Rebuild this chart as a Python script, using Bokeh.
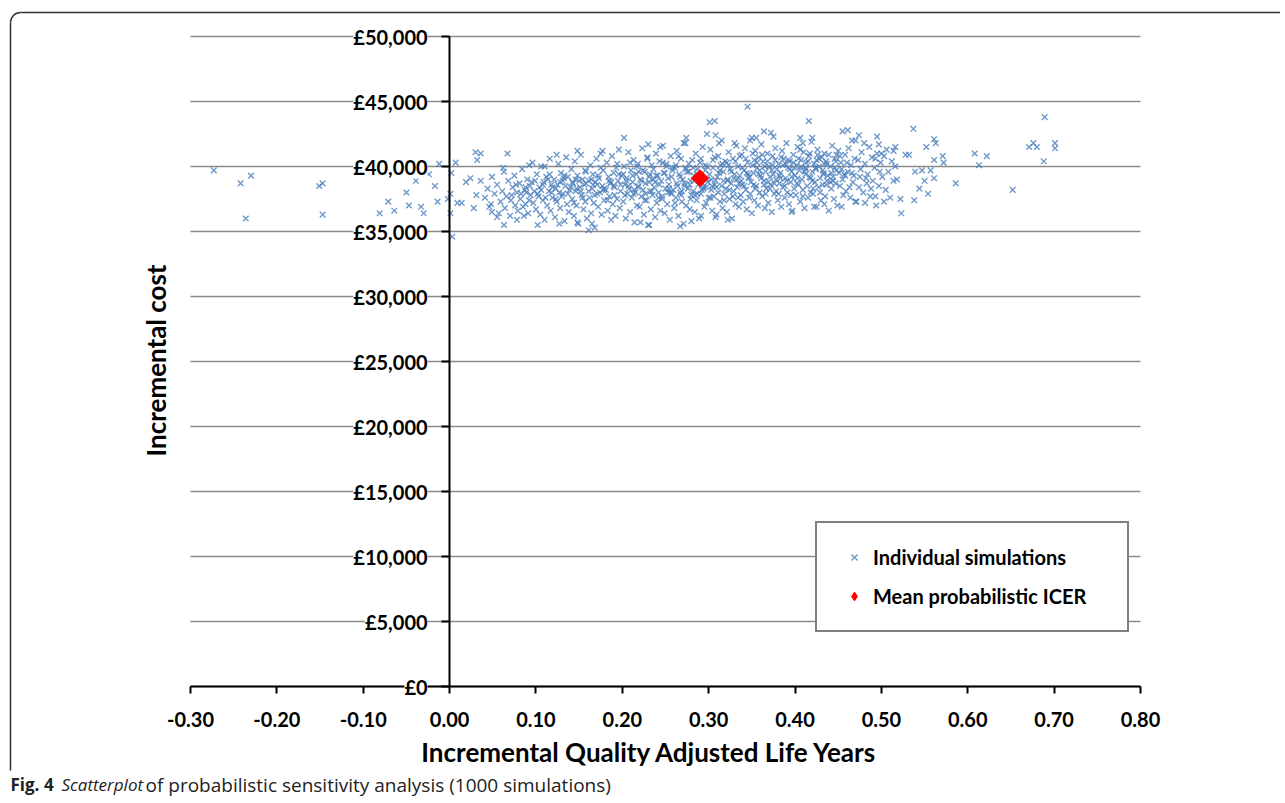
from math import pi
from bokeh.plotting import figure
from bokeh.models import (ColumnDataSource, FixedTicker, Range1d, Legend, LegendItem,
                          LabelSet, Label, NumeralTickFormatter)
from bokeh.core.properties import value
from bokeh.embed import file_html
from bokeh.resources import INLINE

# ---------------- data (QALY gain, incremental cost in £ thousands) ----------------
tail_qaly = [-0.273, -0.242, -0.230, -0.236, -0.151, -0.147, -0.147, -0.081, -0.071, -0.064,
             -0.050, -0.039, -0.047, -0.033, -0.030, -0.017, -0.014, -0.024, -0.012, -0.002,
             0.001, 0.002, 0.001, 0.003, 0.007, 0.009,
             0.030, 0.036, 0.032, 0.019, 0.024, 0.036, 0.031, 0.014, 0.028, 0.048, 0.049, 0.055]
tail_cost = [39.7, 38.7, 39.3, 36.0, 38.5, 38.7, 36.3, 36.4, 37.3, 36.6,
             38.0, 38.9, 37.0, 36.9, 36.4, 38.5, 37.3, 39.4, 40.2, 37.5,
             37.9, 39.5, 36.4, 34.6, 40.3, 37.2,
             41.1, 41.0, 40.5, 38.8, 39.1, 38.9, 37.8, 37.2, 36.8, 37.1, 36.5, 36.1]

upper_qaly = [0.345, 0.301, 0.307, 0.298, 0.308, 0.315, 0.274, 0.271, 0.202, 0.230, 0.244,
              0.350, 0.355, 0.364, 0.330, 0.067, 0.124, 0.148, 0.177, 0.062, 0.092, 0.110]
upper_cost = [44.6, 43.4, 43.5, 42.5, 42.4, 42.0, 42.2, 41.8, 42.2, 41.7, 41.5,
              42.2, 42.2, 42.7, 41.8, 41.0, 40.9, 41.2, 41.2, 39.9, 40.1, 40.0]

lower_qaly = [0.161, 0.063, 0.102, 0.127, 0.148, 0.165, 0.221, 0.231, 0.267, 0.280,
              0.291, 0.308, 0.322, 0.078, 0.086]
lower_cost = [35.1, 35.5, 35.5, 35.6, 35.7, 35.6, 35.7, 35.5, 35.4, 35.8,
              36.2, 36.1, 35.9, 35.9, 36.2]

right_qaly = [0.416, 0.537, 0.561, 0.563, 0.552, 0.571, 0.572, 0.561, 0.586, 0.608,
              0.622, 0.613, 0.652, 0.671, 0.676, 0.680, 0.689, 0.688, 0.701, 0.701,
              0.523, 0.522, 0.538, 0.554, 0.544, 0.550, 0.547, 0.539, 0.561, 0.557,
              0.503, 0.493, 0.481, 0.470, 0.454, 0.434, 0.422, 0.396, 0.455, 0.461,
              0.420, 0.406, 0.409, 0.474, 0.466, 0.495, 0.497, 0.480, 0.516, 0.514,
              0.500, 0.528, 0.532, 0.372, 0.375]
right_cost = [43.5, 42.9, 42.1, 41.8, 41.5, 40.8, 40.3, 40.5, 38.7, 41.0,
              40.8, 40.1, 38.2, 41.5, 41.8, 41.5, 43.8, 40.4, 41.8, 41.4,
              36.4, 37.5, 37.4, 37.9, 38.3, 38.9, 39.7, 39.6, 39.1, 39.7,
              37.3, 37.7, 37.2, 37.3, 36.9, 37.1, 36.9, 36.5, 42.7, 42.8,
              42.2, 42.2, 41.8, 42.4, 42.0, 42.3, 41.7, 41.8, 41.5, 41.2,
              41.0, 40.9, 40.9, 42.6, 42.3]

core_qaly = [
    0.041, 0.044, 0.046, 0.049, 0.052, 0.055, 0.057, 0.059,
    0.061, 0.063, 0.064, 0.066, 0.068, 0.070, 0.071, 0.073, 0.075, 0.076, 0.078, 0.079,
    0.081, 0.082, 0.084, 0.085, 0.087, 0.088, 0.090, 0.091, 0.093, 0.094, 0.096, 0.097, 0.099, 0.100,
    0.101, 0.102, 0.104, 0.105, 0.106, 0.108, 0.109, 0.110, 0.112, 0.113, 0.115, 0.116, 0.117, 0.118, 0.119,
    0.121, 0.122, 0.123, 0.124, 0.126, 0.127, 0.128, 0.129, 0.130, 0.131, 0.133, 0.134, 0.135, 0.136, 0.137, 0.138, 0.139,
    0.141, 0.142, 0.143, 0.144, 0.145, 0.146, 0.147, 0.148, 0.149, 0.151, 0.152, 0.153, 0.154, 0.155, 0.156, 0.157, 0.158, 0.159,
    0.161, 0.162, 0.163, 0.164, 0.165, 0.166, 0.167, 0.168, 0.169, 0.170, 0.171, 0.172, 0.173, 0.174, 0.175, 0.176, 0.177, 0.178, 0.179,
    0.181, 0.182, 0.183, 0.184, 0.185, 0.186, 0.187, 0.188, 0.189, 0.190, 0.191, 0.192, 0.193, 0.194, 0.195, 0.196, 0.197, 0.198, 0.199,
    0.201, 0.202, 0.203, 0.204, 0.205, 0.206, 0.207, 0.208, 0.209, 0.210, 0.211, 0.212, 0.213, 0.214, 0.215, 0.216, 0.217, 0.218, 0.219, 0.220,
    0.221, 0.222, 0.223, 0.224, 0.225, 0.226, 0.227, 0.228, 0.229, 0.230, 0.231, 0.232, 0.233, 0.234, 0.235, 0.236, 0.237, 0.238, 0.239, 0.240,
    0.241, 0.242, 0.243, 0.244, 0.245, 0.246, 0.247, 0.248, 0.249, 0.250, 0.251, 0.252, 0.253, 0.254, 0.255, 0.256, 0.257, 0.258, 0.259, 0.260,
    0.261, 0.262, 0.263, 0.264, 0.265, 0.266, 0.267, 0.268, 0.269, 0.270, 0.271, 0.272, 0.273, 0.274, 0.275, 0.276, 0.277, 0.278, 0.279, 0.280,
    0.281, 0.282, 0.283, 0.284, 0.285, 0.286, 0.287, 0.288, 0.289, 0.290, 0.291, 0.292, 0.293, 0.294, 0.295, 0.296, 0.297, 0.298, 0.299, 0.300,
    0.301, 0.302, 0.303, 0.304, 0.305, 0.306, 0.307, 0.308, 0.309, 0.310, 0.311, 0.312, 0.313, 0.314, 0.315, 0.316, 0.317, 0.318, 0.319, 0.320,
    0.321, 0.322, 0.323, 0.324, 0.325, 0.326, 0.327, 0.328, 0.329, 0.330, 0.331, 0.332, 0.333, 0.334, 0.335, 0.336, 0.337, 0.338, 0.339, 0.340,
    0.341, 0.342, 0.343, 0.344, 0.345, 0.346, 0.347, 0.348, 0.349, 0.350, 0.351, 0.352, 0.353, 0.354, 0.355, 0.356, 0.357, 0.358, 0.359, 0.360,
    0.361, 0.362, 0.363, 0.364, 0.365, 0.366, 0.367, 0.368, 0.369, 0.370, 0.371, 0.372, 0.373, 0.374, 0.375, 0.376, 0.377, 0.378, 0.379, 0.380,
    0.381, 0.382, 0.383, 0.384, 0.385, 0.386, 0.387, 0.388, 0.389, 0.390, 0.391, 0.392, 0.393, 0.394, 0.395, 0.396, 0.397, 0.398, 0.399, 0.400,
    0.401, 0.402, 0.403, 0.404, 0.405, 0.406, 0.407, 0.408, 0.409, 0.410, 0.411, 0.412, 0.413, 0.414, 0.415, 0.416, 0.417, 0.418, 0.419, 0.420,
    0.421, 0.422, 0.423, 0.424, 0.425, 0.426, 0.427, 0.428, 0.429, 0.430, 0.431, 0.432, 0.433, 0.434, 0.435, 0.436, 0.437, 0.438, 0.439,
    0.441, 0.442, 0.443, 0.444, 0.445, 0.446, 0.447, 0.448, 0.449, 0.450, 0.452, 0.453, 0.455, 0.456, 0.458, 0.459,
    0.461, 0.462, 0.464, 0.465, 0.467, 0.468, 0.470, 0.471, 0.473, 0.474, 0.476, 0.477, 0.479,
    0.481, 0.483, 0.484, 0.486, 0.487, 0.489, 0.490, 0.492, 0.494, 0.495, 0.497, 0.499,
    0.501, 0.503, 0.505, 0.506, 0.508, 0.510, 0.512, 0.514, 0.516, 0.518,
    0.205, 0.212, 0.218, 0.224, 0.231, 0.236, 0.243, 0.249, 0.254, 0.258,
    0.263, 0.267, 0.272, 0.277, 0.283, 0.286, 0.292, 0.296, 0.303, 0.307,
    0.312, 0.316, 0.322, 0.326, 0.331, 0.335, 0.339, 0.343, 0.347, 0.352,
    0.356, 0.361, 0.365, 0.369, 0.373, 0.377, 0.382, 0.386, 0.390, 0.394,
    0.398, 0.403, 0.407, 0.411, 0.415, 0.420, 0.424, 0.428, 0.433, 0.437,
    0.442, 0.447, 0.454, 0.460, 0.166, 0.172, 0.178, 0.185, 0.190, 0.196,
    0.140, 0.146, 0.152, 0.158, 0.125, 0.132, 0.118, 0.108, 0.098, 0.088,
]
core_cost = [
    37.6, 38.3, 36.9, 39.2, 37.9, 38.6, 36.4, 37.3,
    38.1, 39.6, 36.8, 37.7, 38.9, 36.2, 37.4, 38.4, 39.3, 37.0, 38.0, 36.6,
    38.7, 37.5, 39.8, 36.9, 38.2, 37.1, 39.0, 36.4, 38.5, 37.8, 40.3, 37.2, 38.9, 36.7,
    39.4, 37.9, 38.4, 36.3, 40.0, 37.4, 38.8, 35.9, 39.2, 37.0, 38.1, 40.6, 36.6, 38.6, 37.6,
    39.0, 36.1, 38.3, 37.3, 40.2, 38.0, 36.8, 39.5, 37.7, 38.9, 35.8, 38.5, 40.7, 37.1, 39.2, 36.5, 38.2,
    39.8, 37.5, 38.7, 36.2, 40.4, 38.1, 37.0, 39.3, 35.6, 38.4, 40.9, 37.8, 39.0, 36.7, 38.6, 37.3, 39.6, 36.0,
    38.9, 37.6, 40.1, 36.4, 38.3, 39.4, 37.2, 35.3, 38.8, 40.6, 37.9, 36.9, 39.1, 38.0, 41.0, 36.3, 38.5, 39.7, 37.4,
    38.2, 40.3, 36.6, 39.2, 37.7, 38.7, 35.9, 40.8, 37.1, 39.5, 38.4, 36.2, 39.9, 37.5, 38.9, 41.3, 36.8, 38.1, 39.3,
    37.3, 40.0, 38.6, 36.0, 39.1, 37.9, 41.1, 38.3, 36.5, 39.7, 37.6, 38.8, 40.5, 35.7, 38.0, 39.4, 37.0, 40.2, 38.5, 36.9,
    39.0, 37.7, 41.4, 38.2, 36.3, 39.6, 38.7, 37.4, 40.7, 35.5, 39.2, 38.1, 36.7, 40.1, 37.8, 39.8, 38.4, 36.1, 41.0, 37.2,
    39.3, 38.0, 40.4, 36.6, 38.9, 37.5, 41.6, 39.5, 36.4, 38.3, 40.0, 37.1, 39.1, 38.6, 35.9, 40.8, 37.9, 39.7, 38.2, 36.8,
    39.9, 37.6, 41.2, 38.5, 36.2, 39.4, 38.0, 40.6, 37.3, 39.0, 35.6, 38.7, 41.8, 37.0, 39.6, 38.3, 40.2, 36.7, 38.9, 37.8,
    40.5, 38.1, 39.3, 36.5, 41.0, 37.4, 39.8, 38.6, 36.0, 40.3, 37.9, 39.1, 41.5, 38.4, 36.9, 39.7, 37.2, 40.0, 38.8, 37.6,
    39.4, 41.3, 38.2, 36.6, 39.9, 37.7, 40.7, 38.9, 36.3, 39.2, 38.0, 41.8, 37.3, 40.1, 38.5, 36.8, 39.6, 37.9, 40.4, 38.3,
    36.5, 39.0, 41.1, 37.5, 39.8, 38.7, 36.0, 40.6, 38.1, 39.4, 37.1, 41.6, 38.4, 40.0, 36.9, 39.3, 37.8, 40.9, 38.6, 37.3,
    39.7, 41.4, 38.2, 36.7, 40.3, 39.1, 37.6, 42.0, 38.8, 36.4, 40.1, 39.5, 37.4, 41.2, 38.5, 39.9, 37.0, 40.7, 38.0, 39.3,
    41.7, 37.7, 40.4, 38.9, 36.8, 39.6, 38.3, 41.0, 37.2, 40.0, 39.2, 38.6, 36.5, 40.8, 39.4, 37.9, 41.4, 38.1, 39.8, 37.4,
    40.2, 38.7, 39.5, 36.9, 41.2, 38.4, 40.6, 37.6, 39.1, 41.8, 38.0, 39.9, 37.1, 40.4, 38.8, 39.6, 36.6, 40.9, 38.3, 39.3,
    37.8, 40.1, 41.5, 38.6, 39.7, 37.3, 40.5, 39.0, 38.2, 41.1, 36.8, 39.4, 40.3, 38.5, 37.6, 40.8, 39.2, 38.0, 41.9, 39.6,
    37.9, 40.2, 38.8, 39.8, 36.9, 41.3, 38.4, 40.0, 39.1, 37.4, 40.7, 38.6, 39.5, 41.0, 37.7, 40.4, 38.9, 39.3, 36.6,
    40.0, 38.3, 41.6, 39.2, 37.5, 40.6, 38.7, 39.7, 37.0, 41.2, 38.5, 40.3, 39.0, 37.8, 40.9, 38.1,
    39.6, 41.4, 37.6, 40.1, 38.8, 39.3, 42.0, 37.3, 40.5, 38.4, 39.8, 41.1, 38.0,
    40.2, 38.7, 39.4, 41.5, 37.7, 40.7, 38.9, 39.9, 37.0, 41.0, 38.5, 40.3,
    39.2, 40.8, 38.2, 41.3, 39.6, 37.6, 40.4, 38.9, 40.0, 39.0,
    38.9, 39.3, 38.4, 39.7, 38.8, 39.0, 38.6, 39.5, 38.3, 39.9,
    38.7, 39.2, 38.5, 39.6, 38.9, 39.4, 38.2, 40.1, 39.0, 38.6,
    39.5, 40.2, 38.9, 39.6, 40.4, 38.7, 39.9, 40.6, 39.2, 38.6,
    40.3, 39.1, 40.0, 38.8, 39.7, 40.5, 39.3, 40.1, 38.9, 39.8,
    40.3, 39.1, 40.0, 39.6, 40.4, 38.9, 39.9, 40.6, 39.4, 40.2,
    39.5, 40.4, 39.8, 40.3, 38.6, 39.3, 38.2, 38.9, 38.5, 39.4,
    38.4, 39.0, 38.1, 38.7, 38.6, 39.1, 38.0, 38.6, 38.1, 38.4,
]

dense_qaly = [
    0.203, 0.209, 0.214, 0.219, 0.226, 0.229, 0.234, 0.239, 0.246, 0.251,
    0.256, 0.261, 0.265, 0.269, 0.274, 0.279, 0.282, 0.287, 0.291, 0.294,
    0.298, 0.302, 0.305, 0.309, 0.313, 0.318, 0.321, 0.324, 0.328, 0.333,
    0.336, 0.341, 0.344, 0.348, 0.351, 0.354, 0.358, 0.362, 0.366, 0.371,
    0.374, 0.378, 0.381, 0.384, 0.388, 0.392, 0.395, 0.399, 0.402, 0.406,
    0.409, 0.413, 0.417, 0.421, 0.425, 0.429, 0.432, 0.436, 0.439, 0.444,
    0.448, 0.451, 0.457, 0.463, 0.469, 0.475, 0.482, 0.488, 0.493, 0.498,
    0.150, 0.154, 0.157, 0.161, 0.164, 0.168, 0.171, 0.175, 0.179, 0.183,
    0.187, 0.191, 0.194, 0.198, 0.201, 0.207, 0.213, 0.217, 0.222, 0.227,
    0.232, 0.238, 0.242, 0.247, 0.253, 0.257, 0.262, 0.268, 0.273, 0.278,
    0.284, 0.289, 0.293, 0.297, 0.304, 0.311, 0.317, 0.323, 0.329, 0.334,
    0.338, 0.346, 0.353, 0.359, 0.364, 0.368, 0.376, 0.383, 0.389, 0.396,
    0.404, 0.412, 0.418, 0.426, 0.434, 0.441, 0.446, 0.452, 0.458, 0.466,
    0.106, 0.111, 0.114, 0.119, 0.123, 0.128, 0.133, 0.137, 0.142, 0.147,
    0.072, 0.077, 0.083, 0.089, 0.092, 0.095, 0.103, 0.116, 0.131, 0.144,
]
dense_cost = [
    37.8, 40.3, 38.2, 39.6, 37.4, 40.6, 38.1, 39.3, 37.7, 40.2,
    38.0, 37.2, 40.8, 38.1, 39.8, 37.5, 39.9, 37.9, 40.6, 38.3,
    39.0, 37.6, 40.5, 38.4, 39.7, 37.4, 40.3, 38.2, 37.7, 39.0,
    40.8, 38.5, 39.5, 37.9, 41.0, 38.3, 39.4, 40.9, 37.9, 38.3,
    40.1, 39.0, 37.9, 40.7, 38.5, 40.5, 37.8, 39.9, 38.7, 41.3,
    37.7, 39.8, 41.0, 38.3, 40.5, 38.0, 39.7, 38.6, 40.9, 38.9,
    40.9, 39.5, 39.4, 38.4, 40.6, 39.2, 39.1, 38.3, 40.6, 39.6,
    38.9, 37.6, 39.7, 38.1, 39.0, 37.8, 38.6, 39.9, 38.3, 37.4,
    38.8, 37.8, 40.2, 38.6, 39.4, 38.5, 37.9, 40.0, 38.9, 37.9,
    39.4, 38.8, 37.6, 40.3, 38.0, 39.2, 40.1, 37.8, 39.9, 38.6,
    37.8, 39.0, 38.7, 38.4, 38.5, 40.8, 38.9, 40.1, 39.1, 37.6,
    38.9, 39.4, 40.5, 39.7, 38.6, 40.4, 38.7, 39.1, 40.2, 39.2,
    40.6, 39.9, 39.1, 40.9, 40.2, 38.8, 39.9, 40.8, 39.3, 39.5,
    38.2, 37.6, 39.0, 38.4, 37.5, 38.8, 39.3, 37.9, 38.8, 38.3,
    37.8, 38.6, 37.9, 38.0, 37.4, 38.8, 37.7, 39.4, 37.9, 37.2,
]

icer_qaly = [0.29]
icer_cost = [39.1]

x_ticks = [-0.3, -0.2, -0.1, 0.0, 0.1, 0.2, 0.3, 0.4, 0.5, 0.6, 0.7, 0.8]
y_ticks = [0, 5, 10, 15, 20, 25, 30, 35, 40, 45, 50]
y_tick_labels = ["£0", "£5,000", "£10,000", "£15,000", "£20,000", "£25,000",
                 "£30,000", "£35,000", "£40,000", "£45,000", "£50,000"]

qaly = tail_qaly + upper_qaly + lower_qaly + right_qaly + core_qaly + dense_qaly
cost = tail_cost + upper_cost + lower_cost + right_cost + core_cost + dense_cost

# ---------------- layout (page pixels) ----------------
W, H = 1280, 800
PLOT_L, PLOT_R, PLOT_T, PLOT_B = 190, 1140, 36, 686
XS = (x_ticks[-1] - x_ticks[0]) / (PLOT_R - PLOT_L)
YS = (y_ticks[-1] - y_ticks[0]) / (PLOT_B - PLOT_T)


def px_x(px):
    return x_ticks[0] + (px - PLOT_L) * XS


def px_y(py):
    return y_ticks[0] + (PLOT_B - py) * YS


FONT = "Lato"
BLUE = "#4a7ebb"

p = figure(width=W, height=H, output_backend="svg", toolbar_location=None,
           x_range=Range1d(px_x(0), px_x(W)), y_range=Range1d(px_y(H), px_y(0)), title=None,
           min_border=0, min_border_left=0, min_border_right=0, min_border_top=0,
           min_border_bottom=0)
p.outline_line_color = None
p.background_fill_color = "white"
p.border_fill_color = "white"
p.grid.visible = False

# gridlines between the first and last x tick
p.segment(x0=[x_ticks[0]] * len(y_ticks), x1=[x_ticks[-1]] * len(y_ticks),
          y0=y_ticks, y1=y_ticks, line_color="#8a8a8a", line_width=1.5)

# x axis at cost = 0
p.xaxis.fixed_location = 0
p.xaxis.bounds = (x_ticks[0], x_ticks[-1])
p.xaxis.ticker = FixedTicker(ticks=x_ticks)
p.xaxis.formatter = NumeralTickFormatter(format="0.00")
p.xaxis.axis_line_width = 2
p.xaxis.axis_line_color = "black"
p.xaxis.major_tick_line_width = 2
p.xaxis.major_tick_line_color = "black"
p.xaxis.major_tick_out = 7
p.xaxis.major_tick_in = 0
p.xaxis.minor_tick_line_color = None
p.xaxis.major_label_standoff = 18
p.xaxis.major_label_text_font = FONT
p.xaxis.major_label_text_font_style = "bold"
p.xaxis.major_label_text_font_size = "20px"
p.xaxis.major_label_text_color = "black"

# y axis crossing at QALY = 0
p.yaxis.fixed_location = 0
p.yaxis.bounds = (y_ticks[0], y_ticks[-1])
p.yaxis.ticker = FixedTicker(ticks=y_ticks)
p.yaxis.axis_line_width = 2
p.yaxis.axis_line_color = "black"
p.yaxis.major_tick_line_width = 2
p.yaxis.major_tick_line_color = "black"
p.yaxis.major_tick_out = 8
p.yaxis.major_tick_in = 0
p.yaxis.minor_tick_line_color = None
p.yaxis.major_label_text_color = None

# scatter
r_sim = p.scatter(qaly, cost, marker="x", size=8, line_color=BLUE, line_width=1.4, line_alpha=0.8)
# diamond key for the legend (drawn beneath the rotated square)
r_icer_key = p.scatter(icer_qaly, icer_cost, marker="diamond", size=14,
                       fill_color="red", line_color="red")
r_icer = p.scatter(icer_qaly, icer_cost, marker="square", angle=pi / 4, size=12,
                   fill_color="red", line_color="red")

# y tick labels with white background (next to the crossing axis)
lab_src = ColumnDataSource(dict(x=[0] * len(y_ticks), y=y_ticks, t=y_tick_labels))
p.add_layout(LabelSet(x="x", y="y", text="t", source=lab_src, x_offset=-22,
                      text_align="right", text_baseline="middle", text_font=value(FONT),
                      text_font_style="bold", text_font_size="20px", text_color="black",
                      background_fill_color="white"))

legend = Legend(items=[LegendItem(label="Individual simulations", renderers=[r_sim]),
                       LegendItem(label="Mean probabilistic ICER", renderers=[r_icer_key])],
                location=(815, H - 632), border_line_color="black", border_line_width=2,
                padding=22, spacing=15, label_text_font=FONT, label_text_font_style="bold",
                label_text_font_size="20px", label_text_color="black",
                glyph_width=30, glyph_height=22,
                label_standoff=4, label_height=22, label_width=232,
                background_fill_alpha=1.0)
p.add_layout(legend)

# axis titles
p.add_layout(Label(x=px_x(649), y=px_y(751), text="Incremental Quality Adjusted Life Years",
                   text_align="center", text_baseline="middle", text_font=FONT,
                   text_font_style="bold", text_font_size="26px", text_color="black"))
p.add_layout(Label(x=px_x(155), y=px_y(360), text="Incremental cost", angle=pi / 2,
                   text_align="center", text_baseline="middle", text_font=FONT,
                   text_font_style="bold", text_font_size="26px", text_color="black"))

# caption
CAP_Y = px_y(784)
p.add_layout(Label(x=px_x(10), y=CAP_Y, text="Fig. 4", text_align="left", text_baseline="middle",
                   text_font="Open Sans", text_font_style="bold", text_font_size="17px",
                   text_color="#222222"))
p.add_layout(Label(x=px_x(61), y=CAP_Y, text="Scatterplot", text_align="left",
                   text_baseline="middle", text_font="Open Sans", text_font_style="italic",
                   text_font_size="17px", text_color="#222222"))
p.add_layout(Label(x=px_x(145), y=CAP_Y,
                   text="of probabilistic sensitivity analysis (1000 simulations)",
                   text_align="left", text_baseline="middle",
                   text_font="Open Sans", text_font_size="19px", text_color="#222222"))

# rounded panel border (top-left corner)
p.line(x=[px_x(10), px_x(10)], y=[px_y(770), px_y(22)], line_color="#333333", line_width=1.5)
p.arc(x=[px_x(20)], y=[px_y(22)], radius=10, radius_units="screen",
      start_angle=pi / 2, end_angle=pi, line_color="#333333", line_width=1.5)
p.line(x=[px_x(20), px_x(W + 10)], y=[px_y(12), px_y(12)], line_color="#333333", line_width=1.5)

open("out.html", "w").write(file_html(p, INLINE))
